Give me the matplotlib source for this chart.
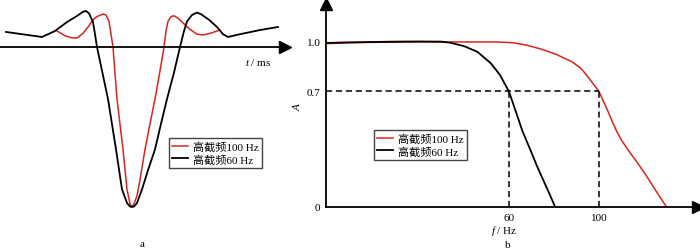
import matplotlib
matplotlib.use("Agg")
import matplotlib.pyplot as plt

plt.rcParams['font.family'] = ['Liberation Serif', 'Noto Sans CJK SC']
plt.rcParams['mathtext.fontset'] = 'custom'
plt.rcParams['mathtext.rm'] = 'Liberation Serif'
plt.rcParams['mathtext.it'] = 'Liberation Serif:italic'

RED = '#d8241c'

# panel a: wavelets (t in ms, amplitude normalised to trough = -1)
t_60 = [-63, -45, -38.5, -32.5, -28, -24.5, -23, -21.5, -19.5, -18.5, -17.5, -12, -8, -5, -2.5, -1, 0,
        1, 2.5, 5, 8, 11.5, 14.5, 17.5, 21, 24, 26, 27.5, 30, 32.5, 34.5, 38.5, 42.5, 45.5, 48,
        54, 64, 73]
a_60 = [0.094, 0.0625, 0.10, 0.156, 0.19, 0.22, 0.225, 0.21, 0.156, 0.08, 0.0, -0.325, -0.64, -0.89,
        -0.975, -0.997, -1.0, -0.997, -0.975, -0.89, -0.77, -0.64, -0.48, -0.325, -0.16, 0.0,
        0.10, 0.16, 0.20, 0.215, 0.205, 0.17, 0.125, 0.08, 0.0625, 0.08, 0.106, 0.125]

t_100 = [-37.5, -33.5, -30.5, -27.5, -24.5, -22, -19.5, -17.5, -14.5, -13, -11.5, -10.5, -9.5,
         -7.5, -4.5, -2.5, -1, 0, 1, 2.5, 4, 6.5, 9, 11.5, 14, 16, 17, 18, 19.5, 21, 23, 25.5,
         29, 32.5, 35.5, 39, 44]
a_100 = [0.10, 0.07, 0.058, 0.056, 0.085, 0.125, 0.17, 0.19, 0.206, 0.20, 0.16, 0.08, 0.0,
         -0.325, -0.64, -0.89, -0.98, -1.0, -0.98, -0.93, -0.83, -0.64, -0.48, -0.325, -0.15, 0.0,
         0.10, 0.16, 0.19, 0.195, 0.18, 0.15, 0.11, 0.08, 0.075, 0.085, 0.106]

# panel b: amplitude spectra
f_60 = [-21.3, -10, 0, 10, 20, 30, 34, 40, 46, 52, 56, 60, 62, 64, 66, 68, 70, 72.4, 75, 78, 80.5]
s_60 = [0.994, 0.998, 1.0, 1.002, 1.003, 1.002, 0.995, 0.975, 0.94, 0.87, 0.80, 0.70, 0.62, 0.54,
        0.46, 0.395, 0.33, 0.25, 0.17, 0.08, 0.0]

f_100 = [-21.3, -10, 0, 20, 40, 55, 62, 68, 74, 81, 88, 92, 95, 100, 102, 104, 106, 108, 110, 112,
         114, 117, 121, 125, 130]
s_100 = [0.99, 0.995, 0.998, 1.0, 1.0, 1.0, 0.995, 0.98, 0.958, 0.925, 0.88, 0.84, 0.79, 0.70,
         0.64, 0.58, 0.515, 0.455, 0.405, 0.365, 0.325, 0.27, 0.19, 0.105, 0.0]

cutoffs = [60, 100]
level = 0.7

W, H = 700, 251
fig = plt.figure(figsize=(W / 100, H / 100), dpi=100)

leg_kw = dict(loc='upper left', bbox_transform=fig.transFigure, borderaxespad=0, fontsize=8,
              handlelength=1.4, handletextpad=0.5, labelspacing=0.15, borderpad=0.3,
              fancybox=False, edgecolor='#444444', framealpha=1)

# ---- panel a
axa = fig.add_axes([0, 0, 285 / W, 1])
axa.set_xlim(-66, 76.5)
axa.set_ylim(-1.269, 0.3)
axa.plot(t_100, a_100, color=RED, lw=1.1, label='高截频100 Hz')
axa.plot(t_60, a_60, color='black', lw=1.3, label='高截频60 Hz')
for s in ['left', 'top', 'right']:
    axa.spines[s].set_visible(False)
axa.spines['bottom'].set_position(('data', 0))
axa.spines['bottom'].set_linewidth(1.3)
axa.set_xticks([])
axa.set_yticks([])
axa.patch.set_visible(False)
axa.plot(1, 0, marker='>', color='black', ms=8, transform=axa.get_yaxis_transform(), clip_on=False)
axa.text(63, -0.09, '$t$ / ms', fontsize=8, ha='center', va='center')
axa.legend(bbox_to_anchor=(169 / W, 1 - 139 / H), **leg_kw)
fig.text(142 / W, 1 - 245 / H, 'a', fontsize=8, ha='center', va='center')

# ---- panel b
axb = fig.add_axes([326 / W, 43 / H, 372 / W, 203 / H])
axb.set_xlim(-21.3, 144)
axb.set_ylim(0, 1.23)
axb.plot(f_100, s_100, color=RED, lw=1.1, label='高截频100 Hz')
axb.plot(f_60, s_60, color='black', lw=1.3, label='高截频60 Hz')
axb.hlines(level, -21.3, cutoffs[1], colors='black', linestyles=(0, (4, 2.5)), lw=1.1)
axb.vlines(cutoffs, 0, level, colors='black', linestyles=(0, (4, 2.5)), lw=1.1)
for s in ['top', 'right']:
    axb.spines[s].set_visible(False)
for s in ['left', 'bottom']:
    axb.spines[s].set_linewidth(1.3)
axb.patch.set_visible(False)
axb.plot(1, 0, marker='>', color='black', ms=8, transform=axb.transAxes, clip_on=False)
axb.plot(0, 1, marker='^', color='black', ms=8, transform=axb.transAxes, clip_on=False)
axb.set_yticks([0, 0.7, 1.0], ['0', '0.7', '1.0'])
axb.set_xticks(cutoffs, [str(c) for c in cutoffs])
axb.tick_params(length=0, labelsize=8, pad=4)
axb.set_ylabel('$A$', fontsize=8, labelpad=3)
axb.set_xlabel('$f$ / Hz', fontsize=8)
axb.xaxis.set_label_coords((504 - 326) / 372, -16 / 203)
axb.legend(bbox_to_anchor=(374 / W, 1 - 131 / H), **leg_kw)
fig.text(508 / W, 1 - 246 / H, 'b', fontsize=8, ha='center', va='center')

fig.savefig('out.png', dpi=100)
